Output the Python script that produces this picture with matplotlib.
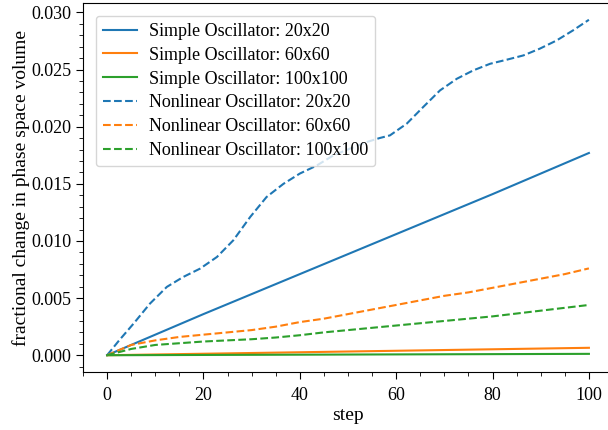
import matplotlib
matplotlib.use('Agg')
import matplotlib.pyplot as plt
from matplotlib.ticker import MultipleLocator

plt.rcParams['font.family'] = ['Liberation Serif', 'DejaVu Serif']

# simple oscillator (straight lines)
steps_simple = [0, 20, 40, 60, 80, 100]
simple_20 = [0, 0.0036, 0.0071, 0.0106, 0.0141, 0.0177]
simple_60 = [0, 0.00013, 0.00026, 0.00039, 0.00052, 0.00065]
simple_100 = [0, 0.000024, 0.000048, 0.000072, 0.000096, 0.00012]

# nonlinear oscillator
steps_nl20 = [0, 2.5, 5.5, 8.9, 12.4, 15.8, 19.3, 22.8, 26.2, 29.7, 33.1, 36.6, 40, 43.5, 47,
              50.5, 53.9, 56.5, 58.7, 62.2, 65.6, 69.1, 72.6, 76, 79.5, 82.9, 86.4, 89.8,
              93.3, 96.7, 100]
nonlin_20 = [0, 0.0013, 0.00277, 0.00452, 0.00598, 0.00685, 0.00758, 0.0086, 0.01006, 0.0121,
             0.01385, 0.0150, 0.0159, 0.0166, 0.0175, 0.0181, 0.01866, 0.0190, 0.01924, 0.02027,
             0.02172, 0.02318, 0.0242, 0.02493, 0.02551, 0.02586, 0.02624, 0.02683, 0.02755,
             0.02843, 0.02936]

steps_nl = [0, 5, 10, 15, 20, 25, 30, 35, 40, 45, 50,
            55, 60, 65, 70, 75, 80, 85, 90, 95, 100]
nonlin_60 = [0, 0.0009, 0.0013, 0.0016, 0.0018, 0.0020, 0.0022, 0.0025, 0.0029, 0.0032, 0.0036,
             0.0040, 0.0044, 0.0048, 0.0052, 0.0055, 0.0059, 0.0063, 0.0067, 0.0071, 0.0076]
nonlin_100 = [0, 0.00055, 0.0009, 0.00105, 0.0012, 0.0013, 0.0014, 0.00155, 0.00175, 0.002, 0.0022,
              0.0024, 0.0026, 0.0028, 0.0030, 0.0032, 0.0034, 0.00365, 0.0039, 0.00415, 0.0044]

fig = plt.figure(figsize=(6.08, 4.30), dpi=100)
ax = fig.add_axes([83/608, 58/430, 530/608, 369/430])

ax.plot(steps_simple, simple_20, color='C0', lw=1.5, label='Simple Oscillator: 20x20')
ax.plot(steps_simple, simple_60, color='C1', lw=1.5, label='Simple Oscillator: 60x60')
ax.plot(steps_simple, simple_100, color='C2', lw=1.5, label='Simple Oscillator: 100x100')
ax.plot(steps_nl20, nonlin_20, color='C0', lw=1.5, ls='--', label='Nonlinear Oscillator: 20x20')
ax.plot(steps_nl, nonlin_60, color='C1', lw=1.5, ls='--', label='Nonlinear Oscillator: 60x60')
ax.plot(steps_nl, nonlin_100, color='C2', lw=1.5, ls='--', label='Nonlinear Oscillator: 100x100')

ax.set_xlim(-5, 105)
ax.set_xticks([0, 20, 40, 60, 80, 100])
ax.xaxis.set_minor_locator(MultipleLocator(5))
ax.yaxis.set_major_locator(MultipleLocator(0.005))
ax.yaxis.set_minor_locator(MultipleLocator(0.001))
ax.tick_params(labelsize=13, length=5)
ax.tick_params(axis='x', pad=6)
ax.tick_params(which='minor', length=3)
ax.spines['right'].set_visible(False)

ax.set_xlabel('step', fontsize=14, labelpad=2)
ax.set_ylabel('fractional change in phase space volume', fontsize=14, labelpad=1)

ax.legend(loc='upper left', fontsize=13, handlelength=1.9, handletextpad=0.65,
          labelspacing=0.38, borderaxespad=0.7)

fig.savefig('out.png', dpi=100)
